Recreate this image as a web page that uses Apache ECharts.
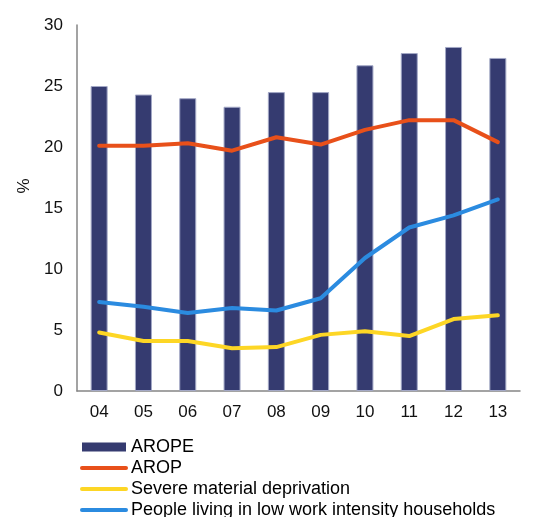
<!DOCTYPE html>
<html><head><meta charset="utf-8">
<script src="https://cdn.jsdelivr.net/npm/echarts@6/dist/echarts.min.js"></script>
<style>html,body{margin:0;padding:0;background:#fff}#c{width:535px;height:517px}</style>
</head><body><div id="c"></div>
<script>
var categories = ['04','05','06','07','08','09','10','11','12','13'];
var arope = [25.0, 24.3, 24.0, 23.3, 24.5, 24.5, 26.7, 27.7, 28.2, 27.3];
var arop = [20.1, 20.1, 20.3, 19.7, 20.8, 20.2, 21.4, 22.2, 22.2, 20.4];
var severe = [4.8, 4.1, 4.1, 3.5, 3.6, 4.6, 4.9, 4.5, 5.9, 6.2];
var lowWork = [7.3, 6.9, 6.4, 6.8, 6.6, 7.6, 10.9, 13.4, 14.4, 15.7];
var yTicks = [0, 5, 10, 15, 20, 25, 30];

var font = 'Liberation Sans, Arial, sans-serif';
var chart = echarts.init(document.getElementById('c'));
function lineSeries(name, data, color) {
  return {
    name: name, type: 'line', data: data, symbol: 'none', smooth: false,
    lineStyle: {color: color, width: 4, cap: 'round', join: 'round'},
    itemStyle: {color: color}, z: 3
  };
}
function lineLegend(name) {
  return {name: name, itemStyle: {opacity: 0}, lineStyle: {width: 4, cap: 'round'}};
}
chart.setOption({
  animation: false,
  textStyle: {fontFamily: font},
  grid: {left: 77, right: 15, top: 25, bottom: 126, containLabel: false},
  legend: {
    orient: 'vertical', left: 80, top: 438, height: 120, padding: 0,
    itemWidth: 44, itemHeight: 9,
    itemGap: 3, textStyle: {fontSize: 18, color: '#000', fontFamily: font, lineHeight: 18},
    data: [
      {name: 'AROPE', icon: 'rect', itemStyle: {borderWidth: 0}},
      lineLegend('AROP'),
      lineLegend('Severe material deprivation'),
      lineLegend('People living in low work intensity households')
    ]
  },
  xAxis: {
    type: 'category', data: categories,
    axisLine: {lineStyle: {color: '#858585', width: 1.5}},
    axisTick: {show: false},
    axisLabel: {fontSize: 17, color: '#111', margin: 13, fontFamily: font}
  },
  yAxis: {
    type: 'value', min: yTicks[0], max: yTicks[yTicks.length - 1], interval: 5,
    name: '%', nameLocation: 'middle', nameGap: 42, nameRotate: 90,
    nameTextStyle: {fontSize: 17, color: '#111', fontFamily: font, padding: [0, 0, 0, 44]},
    axisLine: {show: true, lineStyle: {color: '#858585', width: 1.5}},
    axisTick: {show: false},
    splitLine: {show: false},
    axisLabel: {fontSize: 17, color: '#111', margin: 14, fontFamily: font}
  },
  series: [
    {name: 'AROPE', type: 'bar', data: arope, barWidth: 17,
     itemStyle: {color: '#353B70', borderColor: '#A3A8C6', borderWidth: 1}, z: 2},
    lineSeries('AROP', arop, '#E8501A'),
    lineSeries('Severe material deprivation', severe, '#FDD625'),
    lineSeries('People living in low work intensity households', lowWork, '#2B8BE0')
  ]
});
</script></body></html>
